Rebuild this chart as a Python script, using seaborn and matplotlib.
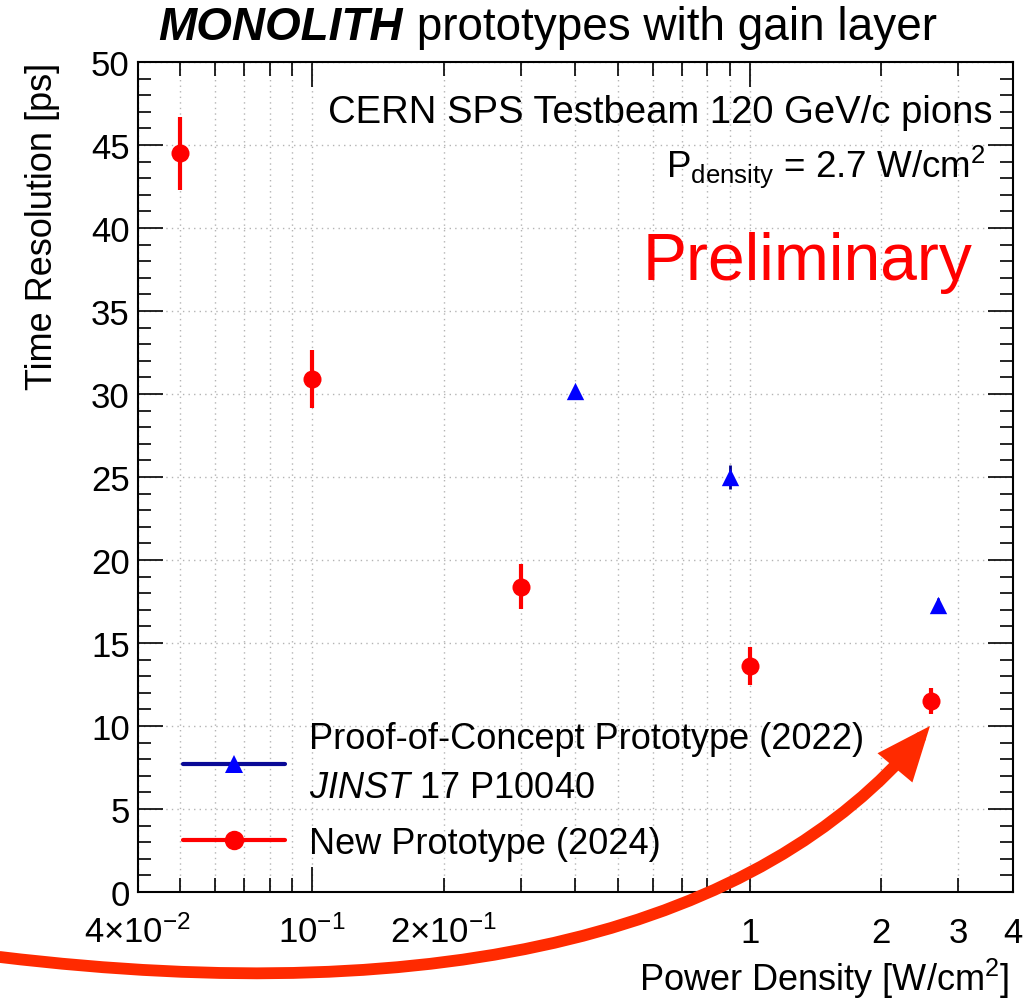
import numpy as np
import pandas as pd
import matplotlib
matplotlib.use("Agg")
import matplotlib.pyplot as plt
import seaborn as sns
from matplotlib.lines import Line2D
from matplotlib.patches import FancyArrowPatch
from matplotlib.path import Path
from matplotlib.ticker import FixedLocator, FixedFormatter

# ---------------- data ----------------
new_x = [0.05, 0.1, 0.3, 1.0, 2.6]
new_y = [44.5, 30.9, 18.4, 13.6, 11.5]
new_err = [2.2, 1.75, 1.35, 1.15, 0.8]

poc_x = [0.4, 0.9, 2.7]
poc_y = [30.2, 25.0, 17.3]
poc_err = [0.3, 0.75, 0.4]

x_major = [0.1, 1.0]
x_major_labels = [r"10$^{-1}$", "1"]
x_minor = [0.04, 0.05, 0.06, 0.07, 0.08, 0.09,
           0.2, 0.3, 0.4, 0.5, 0.6, 0.7, 0.8, 0.9,
           2.0, 3.0, 4.0]
x_minor_labels = ["4×10$^{-2}$", "", "", "", "", "",
                  "2×10$^{-1}$", "", "", "", "", "", "", "",
                  "2", "3", "4"]
y_major = [0, 5, 10, 15, 20, 25, 30, 35, 40, 45, 50]

# ---------------- style ----------------
sns.set_style("ticks")
plt.rcParams["font.family"] = ["Liberation Sans", "DejaVu Sans"]
plt.rcParams["mathtext.fontset"] = "custom"
plt.rcParams["mathtext.rm"] = "Liberation Sans"
plt.rcParams["mathtext.it"] = "Liberation Sans:italic"
plt.rcParams["mathtext.bf"] = "Liberation Sans:bold"
for k in ["text.color", "axes.labelcolor", "xtick.color", "ytick.color",
          "axes.edgecolor"]:
    plt.rcParams[k] = "black"

FS_TICK = 25
FS_LAB = 26
fig = plt.figure(figsize=(10.36, 10.03), dpi=100)
ax = fig.add_axes([138 / 1036, 1 - 893 / 1003, 875 / 1036, 830 / 1003])

df_new = pd.DataFrame({"x": new_x, "y": new_y, "err": new_err})
df_poc = pd.DataFrame({"x": poc_x, "y": poc_y, "err": poc_err})

ax.set_xscale("log")
ax.errorbar(df_new["x"], df_new["y"], yerr=df_new["err"], fmt="none",
            ecolor="#ff0000", elinewidth=3, capsize=0, zorder=3)
ax.errorbar(df_poc["x"], df_poc["y"], yerr=df_poc["err"], fmt="none",
            ecolor="#00008c", elinewidth=2, capsize=0, zorder=3)
sns.scatterplot(data=df_new, x="x", y="y", marker="o", color="#ff0000",
                s=13 ** 2, linewidth=0, ax=ax, zorder=4, legend=False)
sns.scatterplot(data=df_poc, x="x", y="y", marker="^", color="#0000ff",
                s=12.5 ** 2, linewidth=0, ax=ax, zorder=4, legend=False)

ax.set_xlim(0.04, 4)
ax.set_ylim(0, 50)

ax.xaxis.set_major_locator(FixedLocator(x_major))
ax.xaxis.set_major_formatter(FixedFormatter(x_major_labels))
ax.xaxis.set_minor_locator(FixedLocator(x_minor))
ax.xaxis.set_minor_formatter(FixedFormatter(x_minor_labels))
ax.yaxis.set_major_locator(FixedLocator(y_major))
ax.yaxis.set_minor_locator(FixedLocator(list(range(0, 51))))

ax.tick_params(which="both", direction="in", top=True, right=True,
               width=1.2, color="black", labelsize=FS_TICK,
               labelcolor="black")
ax.tick_params(axis="y", which="major", length=18, pad=6)
ax.tick_params(axis="y", which="minor", length=9.4)
ax.tick_params(axis="x", which="major", length=18, pad=36)
ax.tick_params(axis="x", which="minor", length=10, pad=36)
for lbl in ax.get_xticklabels(which="both"):
    lbl.set_verticalalignment("baseline")

for sp in ax.spines.values():
    sp.set_linewidth(1.5)
    sp.set_color("black")

grid_kw = dict(color="#b4b4b4", linestyle=(0, (1, 3)), linewidth=1.0)
ax.grid(True, axis="x", which="both", **grid_kw)
ax.grid(True, axis="y", which="major", **grid_kw)
ax.grid(False, axis="y", which="minor")
ax.set_axisbelow(True)

ax.set_ylabel("Time Resolution [ps]", fontsize=FS_LAB, loc="top")
ax.yaxis.set_label_coords(-0.089, 1.0)
ax.set_xlabel(r"Power Density [W/cm$^{2}$]", fontsize=FS_LAB, loc="right")
ax.xaxis.set_label_coords(0.996, -0.077)

# ---------------- texts ----------------
fig.text(403 / 1036, 1 - 40 / 1003, "MONOLITH", fontsize=33,
         fontweight="bold", fontstyle="italic", ha="right", va="baseline")
fig.text(404 / 1036, 1 - 40 / 1003, " prototypes with gain layer",
         fontsize=33, ha="left", va="baseline")

fig.text(993 / 1036, 1 - 123 / 1003, "CERN SPS Testbeam 120 GeV/c pions",
         fontsize=27.5, ha="right", va="baseline")
fig.text(986 / 1036, 1 - 177 / 1003,
         r"P$_{\mathrm{density}}$ = 2.7 W/cm$^{2}$",
         fontsize=26.5, ha="right", va="baseline")
fig.text(972 / 1036, 1 - 280 / 1003, "Preliminary", fontsize=47.5,
         color="#ff0000", ha="right", va="baseline")

# ---------------- legend ----------------
handles = [
    Line2D([], [], color="#0a0a96", lw=3, marker="^", markersize=13,
           markerfacecolor="#0000ff", markeredgewidth=0),
    Line2D([], [], color="#ff0000", lw=3, marker="o", markersize=14,
           markerfacecolor="#ff0000", markeredgewidth=0),
]
labels = ["Proof-of-Concept Prototype (2022)\n" + r"$\it{JINST}$ 17 P10040",
          "New Prototype (2024)"]
leg = ax.legend(handles, labels, loc="upper left",
                bbox_to_anchor=(183 / 1036, 1 - 722 / 1003),
                bbox_transform=fig.transFigure, frameon=False,
                borderpad=0, borderaxespad=0, handlelength=2.83,
                handletextpad=0.66, fontsize=FS_LAB, labelspacing=0.59)
leg.get_texts()[0].set_linespacing(1.51)

# ---------------- arrow ----------------
pts_px = [(0, 958), (450, 1012), (760, 930), (930, 727)]
verts = [(px / 1036, 1 - py / 1003) for px, py in pts_px]
codes = [Path.MOVETO, Path.CURVE4, Path.CURVE4, Path.CURVE4]
arrow = FancyArrowPatch(path=Path(verts, codes), transform=fig.transFigure,
                        arrowstyle="-|>,head_length=24,head_width=10",
                        mutation_scale=1, lw=8.5, color="#ff2a00",
                        joinstyle="miter", zorder=20)
fig.add_artist(arrow)

fig.savefig("out.png", dpi=100)
